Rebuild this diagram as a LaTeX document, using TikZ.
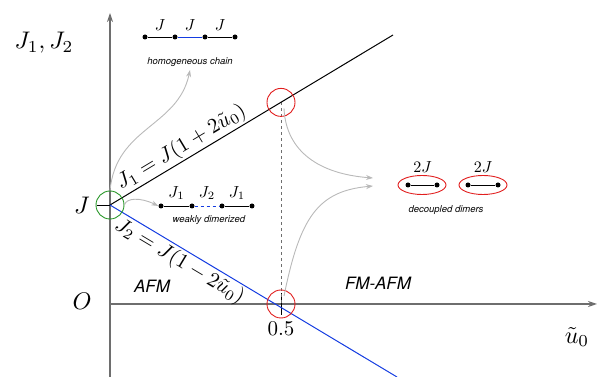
\documentclass[tikz,border=0pt]{standalone}
\usepackage{fontspec}
\setsansfont{TeX Gyre Heros}
\usepackage{xcolor}
\usepackage{tikz}
\usetikzlibrary{positioning, arrows.meta, shapes.geometric, calc}
\definecolor{lnBlue}{RGB}{20, 60, 225}
\definecolor{axGray}{RGB}{110, 110, 110}
\definecolor{arGray}{RGB}{185, 185, 185}
\definecolor{ringRed}{RGB}{225, 30, 30}
\definecolor{ringGreen}{RGB}{40, 150, 40}

\begin{document}
\begin{tikzpicture}[x=1pt, y=1pt,
        big/.style={scale=2.4, inner sep=1pt},
        mid/.style={scale=2.1, inner sep=1pt},
        small/.style={scale=1.6, inner sep=1pt},
        axis/.style={-{Stealth[length=9pt, width=6pt]}, line width=1.2pt, axGray},
        dot/.style={circle, fill=black, inner sep=0pt, minimum size=5pt},
        ring/.style={circle, draw=ringRed, line width=0.9pt, minimum size=28pt, inner sep=0pt},
        note/.style={font=\fontsize{9.5}{11}\selectfont\sffamily\itshape},
        phase/.style={font=\fontsize{17}{20}\selectfont\sffamily\itshape},
        flow/.style={-{Stealth[length=7pt, width=5pt]}, line width=0.9pt, arGray}
    ]
    \useasboundingbox (0,0) rectangle (598,377);

    % axes
    \coordinate (bot) at (110,0);
    \coordinate (top) at (110,364);
    \coordinate (O)   at (110,73);
    \coordinate (rgt) at (597,73);
    \draw[axis] (bot) -- (top);
    \draw[axis] (O) -- (rgt);
    \node[big] (yl) at (44,334) {$J_1,J_2$};
    \node[big] (xl) at (577,40) {$\tilde{u}_0$};
    \node[big] (ol) at (82,76) {$O$};
    \node[big] (jl) at (82,172) {$J$};
    \node[mid] (hl) at (281,48) {$0.5$};

    % couplings
    \coordinate (J)  at (110,172);
    \coordinate (Ja) at (393,342);
    \coordinate (Jb) at (397,0);
    \coordinate (jt) at (97,172);
    \coordinate (P)  at (281,274.6);
    \coordinate (Q)  at (281,73);
    \coordinate (qa) at (281,84);
    \coordinate (qb) at (281,62);
    \draw[line width=0.9pt] (jt) -- (J);
    \draw[line width=0.9pt] (qa) -- (qb);
    \draw[axGray, dashed, line width=0.8pt] (P) -- (Q);
    \draw[line width=1pt] (J) -- (Ja)
        node[mid, pos=0.275, sloped, above=-1pt] {$J_1=J(1+2\tilde{u}_0)$};
    \draw[lnBlue, line width=1pt] (J) -- (Jb)
        node[mid, pos=0.265, sloped, below=-1pt, black] {$J_2=J(1-2\tilde{u}_0)$};

    \node[ring, draw=ringGreen] (cj) at (J) {};
    \node[ring] (cp) at (P) {};
    \node[ring] (cq) at (Q) {};

    \node[phase] (afm) at (152,91) {AFM};
    \node[phase] (fma) at (378,94) {FM-AFM};

    % homogeneous chain
    \node[dot] (h1) at (145,340) {};
    \node[dot] (h2) at (175,340) {};
    \node[dot] (h3) at (205,340) {};
    \node[dot] (h4) at (235,340) {};
    \draw[line width=0.9pt] (h1) -- node[small, above=4pt] {$J$} (h2);
    \draw[lnBlue, line width=0.9pt] (h2) -- node[small, above=4pt, black] {$J$} (h3);
    \draw[line width=0.9pt] (h3) -- node[small, above=4pt] {$J$} (h4);
    \node[note] (hom) at (190,315) {homogeneous chain};

    % weakly dimerized
    \node[dot] (w1) at (161,171) {};
    \node[dot] (w2) at (192,171) {};
    \node[dot] (w3) at (222,171) {};
    \node[dot] (w4) at (252,171) {};
    \draw[line width=0.9pt] (w1) -- node[small, above=4pt] {$J_1$} (w2);
    \draw[lnBlue, dashed, line width=0.9pt] (w2) -- node[small, above=4pt, black] {$J_2$} (w3);
    \draw[line width=0.9pt] (w3) -- node[small, above=4pt] {$J_1$} (w4);
    \node[note] (wdi) at (209,157) {weakly dimerized};

    % decoupled dimers
    \node[ellipse, draw=ringRed, line width=0.9pt, minimum width=48pt, minimum height=19pt] (e1) at (422,192) {};
    \node[ellipse, draw=ringRed, line width=0.9pt, minimum width=48pt, minimum height=19pt] (e2) at (483,192) {};
    \node[dot] (d1) at (408,192) {};
    \node[dot] (d2) at (437,192) {};
    \node[dot] (d3) at (468,192) {};
    \node[dot] (d4) at (498,192) {};
    \draw[line width=0.9pt] (d1) -- node[small, above=10pt] {$2J$} (d2);
    \draw[line width=0.9pt] (d3) -- node[small, above=10pt] {$2J$} (d4);
    \node[note] (dec) at (446,167) {decoupled dimers};

    % arrows to the three regimes
    \draw[flow] (cj.north) .. controls (116,250) and (178,250) .. (hom.south);
    \draw[flow] (cj.east) .. controls (126,179) and (140,180) .. (w1.west);
    \draw[flow] ($(cp)+(3,-6)$) .. controls (286,225) and (320,203) .. (373,199);
    \draw[flow] ($(cq)+(3,8)$) .. controls (300,160) and (318,186) .. (373,191);
\end{tikzpicture}
\end{document}
